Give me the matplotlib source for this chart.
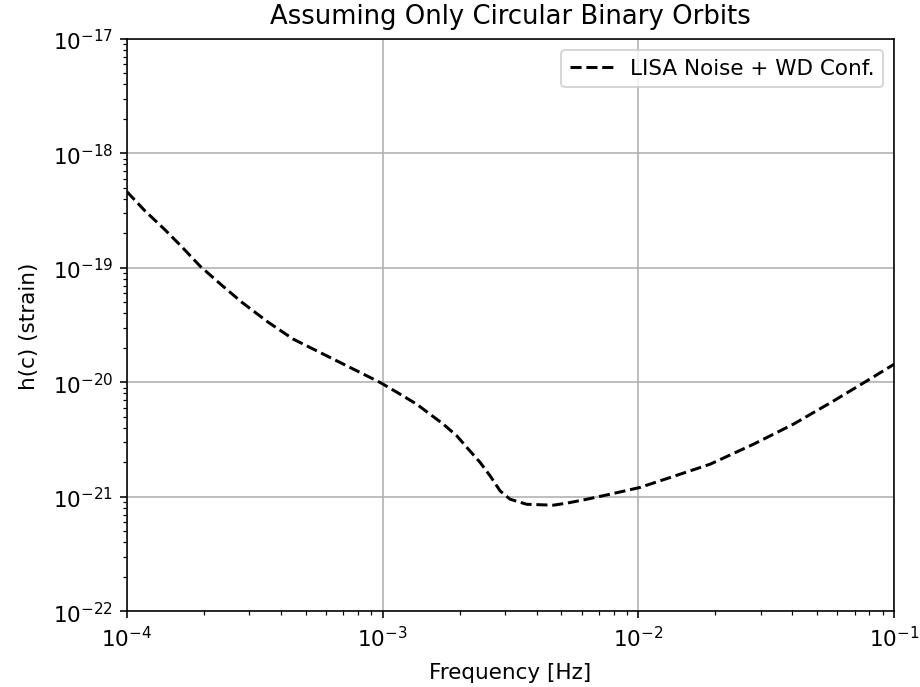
import matplotlib
matplotlib.use("Agg")
from matplotlib import pyplot as plt

plt.rcParams['font.size'] = 10.8

# values (log10 of frequency and strain)
log_freq = [-4.0, -3.930, -3.851, -3.786, -3.714, -3.630, -3.551, -3.447, -3.350,
            -3.193, -3.010, -2.932, -2.867, -2.815, -2.763, -2.710, -2.665, -2.619,
            -2.580, -2.541, -2.502, -2.437, -2.333, -2.280, -2.202, -2.111, -1.996,
            -1.876, -1.720, -1.550, -1.394, -1.237, -1.107, -1.0]
log_strain = [-18.335, -18.501, -18.668, -18.815, -18.985, -19.150, -19.300, -19.476,
              -19.622, -19.797, -20.001, -20.103, -20.191, -20.278, -20.365, -20.468,
              -20.584, -20.700, -20.817, -20.948, -21.021, -21.065, -21.073, -21.055,
              -21.021, -20.977, -20.919, -20.831, -20.715, -20.540, -20.365, -20.162,
              -19.987, -19.841]

freq = [10 ** v for v in log_freq]
strain = [10 ** v for v in log_strain]

fig = plt.figure(figsize=(6.4, 4.786), dpi=143.75)
ax = fig.add_subplot(111)
fig.subplots_adjust(left=0.138, right=0.972, bottom=0.110, top=0.942)

ax.loglog(freq, strain, color='black', linestyle='--', label='LISA Noise + WD Conf.')
ax.set_xlim(1e-4, 1e-1)
ax.set_ylim(1e-22, 1e-17)
ax.grid(True)
ax.legend(loc='upper right')
ax.set_title('Assuming Only Circular Binary Orbits', pad=8)
ax.set_xlabel('Frequency [Hz]', labelpad=6)
ax.set_ylabel('h(c) (strain)', labelpad=7)

fig.savefig('out.png')
